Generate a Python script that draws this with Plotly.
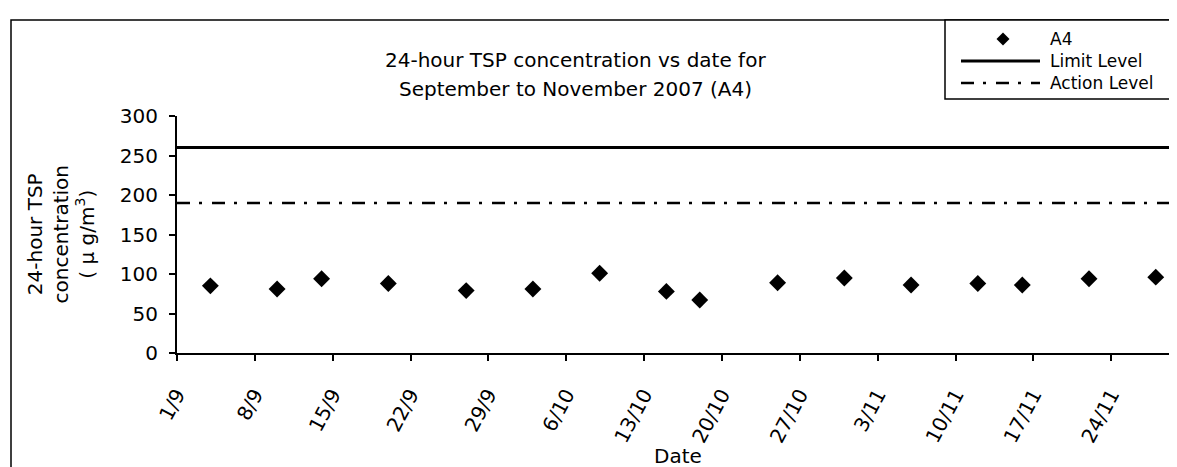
import plotly.graph_objects as go

# ---- data ----
dates = ['2007-09-04', '2007-09-10', '2007-09-14', '2007-09-20', '2007-09-27',
         '2007-10-03', '2007-10-09', '2007-10-15', '2007-10-18', '2007-10-25',
         '2007-10-31', '2007-11-06', '2007-11-12', '2007-11-16', '2007-11-22',
         '2007-11-28']
tsp_a4 = [85, 81, 94, 88, 79, 81, 101, 78, 67, 89, 95, 86, 88, 86, 94, 96]
limit_level = 260
action_level = 190
x_start, x_end = '2007-09-01', '2007-11-30'
y_ticks = [0, 50, 100, 150, 200, 250, 300]
series_names = ['A4', 'Limit Level', 'Action Level']

W, H = 1177, 467
L, R, T, B = 169, 7, 108, 122
PW, PH = W - L - R, H - T - B
FONT = 'DejaVu Sans'
ACTION_DASH = '13px,9px,3px,10px'
LEG_FONT = 17
LEG_ROW = LEG_FONT * 1.3


def px(x):
    return (x - L) / PW


def py(y):
    return (H - B - y) / PH


fig = go.Figure()
fig.add_trace(go.Scatter(x=[x_start, x_end], y=[limit_level, limit_level], mode='lines',
                         name=series_names[1], line=dict(color='black', width=3),
                         showlegend=False, hoverinfo='skip'))
fig.add_trace(go.Scatter(x=[x_start, x_end], y=[action_level, action_level], mode='lines',
                         name=series_names[2], line=dict(color='black', width=2.5, dash=ACTION_DASH),
                         showlegend=False, hoverinfo='skip'))
fig.add_trace(go.Scatter(x=dates, y=tsp_a4, mode='markers', name=series_names[0],
                         marker=dict(symbol='diamond', size=13, color='black'),
                         showlegend=False))

row_y = [53 - LEG_ROW, 53, 53 + LEG_ROW]

shapes = []
# outer chart border
shapes.append(dict(type='rect', xref='paper', yref='paper', x0=px(3), x1=px(1182),
                   y0=py(465), y1=py(12), line=dict(color='black', width=1.5)))
# legend box
shapes.append(dict(type='rect', xref='paper', yref='paper', x0=px(937), x1=px(1182),
                   y0=py(91), y1=py(12), line=dict(color='black', width=1.5),
                   fillcolor='white'))
# legend symbols
shapes.append(dict(type='line', xref='paper', yref='paper', x0=px(953), x1=px(1032),
                   y0=py(row_y[1]), y1=py(row_y[1]), line=dict(color='black', width=3)))
shapes.append(dict(type='line', xref='paper', yref='paper', x0=px(953), x1=px(1032),
                   y0=py(row_y[2]), y1=py(row_y[2]),
                   line=dict(color='black', width=2.5, dash=ACTION_DASH)))
cx, cy, r = 995, row_y[0], 6.5
shapes.append(dict(type='path', xref='paper', yref='paper',
                   path=f'M {px(cx)} {py(cy - r)} L {px(cx + r)} {py(cy)} L {px(cx)} {py(cy + r)} '
                        f'L {px(cx - r)} {py(cy)} Z',
                   fillcolor='black', line=dict(color='black', width=0)))

annotations = []
# legend texts (one block, three rows)
annotations.append(dict(text='<br>'.join(series_names), xref='paper', yref='paper',
                        x=px(1040), y=py(row_y[1]), xanchor='left', yanchor='middle',
                        align='left', showarrow=False,
                        font=dict(family=FONT, size=LEG_FONT, color='black')))
# chart title (two lines)
annotations.append(dict(text='24-hour TSP concentration vs date for', xref='paper', yref='paper',
                        x=px(567), y=py(52), xanchor='center', yanchor='middle', showarrow=False,
                        font=dict(family=FONT, size=20, color='black')))
annotations.append(dict(text='September to November 2007 (A4)', xref='paper', yref='paper',
                        x=px(567), y=py(81), xanchor='center', yanchor='middle', showarrow=False,
                        font=dict(family=FONT, size=20, color='black')))
# y-axis title
annotations.append(dict(text='24-hour TSP<br>concentration<br>( μ g/m<sup>3</sup>)',
                        xref='paper', yref='paper', x=px(52), y=0.5, xanchor='center',
                        yanchor='middle', textangle=-90, showarrow=False,
                        font=dict(family=FONT, size=20, color='black')))
# x-axis title
annotations.append(dict(text='Date', xref='paper', yref='paper', x=0.5, y=py(448),
                        xanchor='center', yanchor='middle', showarrow=False,
                        font=dict(family=FONT, size=20, color='black')))

fig.update_layout(
    width=W, height=H,
    margin=dict(l=L, r=R, t=T, b=B, autoexpand=False),
    paper_bgcolor='white', plot_bgcolor='white',
    showlegend=False,
    shapes=shapes, annotations=annotations,
    font=dict(family=FONT, size=20, color='black'),
    xaxis=dict(type='date', range=[x_start, x_end], tick0=x_start, dtick=7 * 86400000,
               tickformat='%-d/%-m', tickangle=-62, ticks='outside', ticklen=6,
               tickwidth=1.5, tickcolor='black', showline=True, linecolor='black',
               linewidth=2, showgrid=False, zeroline=False, ticklabelstandoff=14,
               tickfont=dict(family=FONT, size=20, color='black')),
    yaxis=dict(range=[0, 300], tickvals=y_ticks, ticks='outside', ticklen=6,
               tickwidth=1.5, tickcolor='black', showline=True, linecolor='black',
               linewidth=2, showgrid=False, zeroline=False, ticklabelstandoff=7,
               tickfont=dict(family=FONT, size=20, color='black')),
)

fig.write_html('out.html')
